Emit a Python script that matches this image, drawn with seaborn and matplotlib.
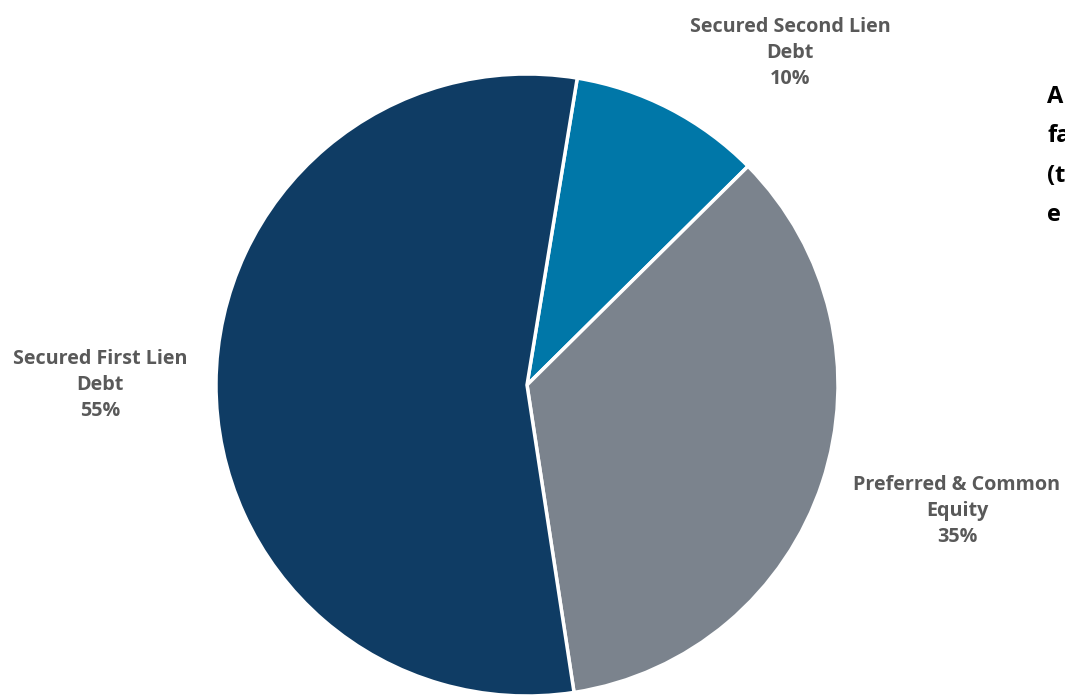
import matplotlib
matplotlib.use("Agg")
import matplotlib.pyplot as plt
import seaborn as sns

categories = ["Secured Second Lien\nDebt", "Preferred & Common\nEquity", "Secured First Lien\nDebt"]
shares = [10, 35, 55]
colors = ["#0077A8", "#7B838D", "#0F3C64"]
side_note = "A\nfa\n(t\ne"

sns.set_theme(style="white")
plt.rcParams["font.family"] = ["Open Sans", "DejaVu Sans"]

W, H = 1065, 696
fig = plt.figure(figsize=(W / 100, H / 100), dpi=100)
ax = fig.add_axes([0, 0, 1, 1])

cx, cy, r = 527, H - 385, 311
ax.pie(shares, colors=colors, startangle=80.7, counterclock=False,
       center=(cx, cy), radius=r, frame=True,
       wedgeprops=dict(edgecolor="white", linewidth=2.5))
ax.set_xlim(0, W)
ax.set_ylim(0, H)
ax.set_aspect("equal")
ax.axis("off")

label_pos = [(790, H - 53), (957, H - 511), (100, H - 385)]
for cat, val, (x, y) in zip(categories, shares, label_pos):
    ax.text(x, y, f"{cat}\n{val}%", ha="center", va="center", fontsize=14.2,
            fontweight="bold", color="#595959", linespacing=1.43)

ax.text(1047, H - 156, side_note, ha="left", va="center", fontsize=17,
        fontweight="bold", color="black", linespacing=1.86)

fig.savefig("out.png", dpi=100)
